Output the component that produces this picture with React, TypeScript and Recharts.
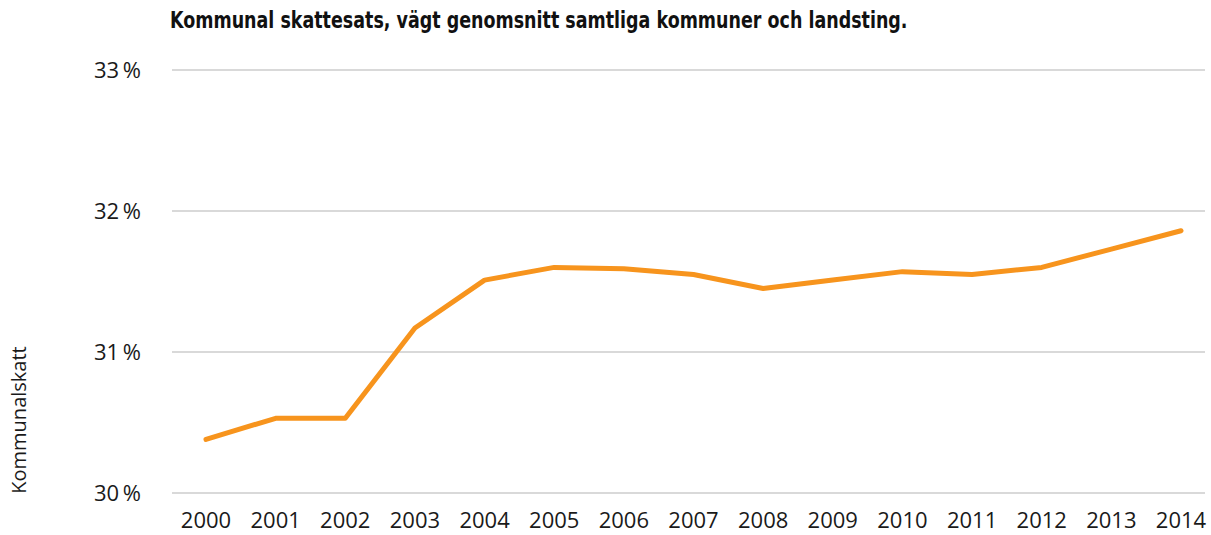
import { LineChart, Line, XAxis, YAxis, CartesianGrid } from "recharts";

const years = [
  "2000", "2001", "2002", "2003", "2004", "2005", "2006", "2007",
  "2008", "2009", "2010", "2011", "2012", "2013", "2014",
];
const taxRate = [
  30.38, 30.53, 30.53, 31.17, 31.51, 31.6, 31.59, 31.55,
  31.45, 31.51, 31.57, 31.55, 31.6, 31.73, 31.86,
];
const yTicks = [30, 31, 32, 33];

const title = "Kommunal skattesats, vägt genomsnitt samtliga kommuner och landsting.";
const yLabel = "Kommunalskatt";

const data = years.map((year, i) => ({ year, value: taxRate[i] }));

const tickFont = { fontFamily: "'Open Sans', sans-serif", fontSize: 22, fill: "#1a1a1a" };

export default function App() {
  return (
    <div style={{ position: "fixed", left: 0, top: 0, width: 1211, height: 535, background: "#fff" }}>
      <div
        style={{
          position: "absolute",
          left: 170,
          top: 7,
          fontFamily: "'DejaVu Sans', sans-serif",
          fontWeight: 700,
          fontSize: 23,
          color: "#111",
          whiteSpace: "nowrap",
          transform: "scaleX(0.76)",
          transformOrigin: "left top",
        }}
      >
        {title}
      </div>
      <div
        style={{
          position: "absolute",
          left: 18,
          top: 420,
          transform: "translate(-50%, -50%) rotate(-90deg)",
          fontFamily: "'Open Sans', sans-serif",
          fontSize: 20,
          color: "#1a1a1a",
          whiteSpace: "nowrap",
        }}
      >
        {yLabel}
      </div>
      <LineChart
        width={1211}
        height={535}
        data={data}
        margin={{ top: 70, right: 6, bottom: 12, left: 72 }}
      >
        <CartesianGrid vertical={false} stroke="#b3b3b3" strokeWidth={1} />
        <XAxis
          dataKey="year"
          axisLine={false}
          tickLine={false}
          interval={0}
          padding={{ left: 34, right: 24 }}
          tick={tickFont}
          tickMargin={13}
          height={30}
        />
        <YAxis
          domain={[30, 33]}
          ticks={yTicks}
          axisLine={false}
          tickLine={false}
          width={100}
          tickMargin={25}
          tick={tickFont}
          tickFormatter={(v: any) => `${v}\u2009%`}
        />
        <Line
          type="linear"
          dataKey="value"
          stroke="#F7941D"
          strokeWidth={5}
          strokeLinecap="round"
          strokeLinejoin="round"
          dot={false}
          activeDot={false}
          isAnimationActive={false}
        />
      </LineChart>
    </div>
  );
}
